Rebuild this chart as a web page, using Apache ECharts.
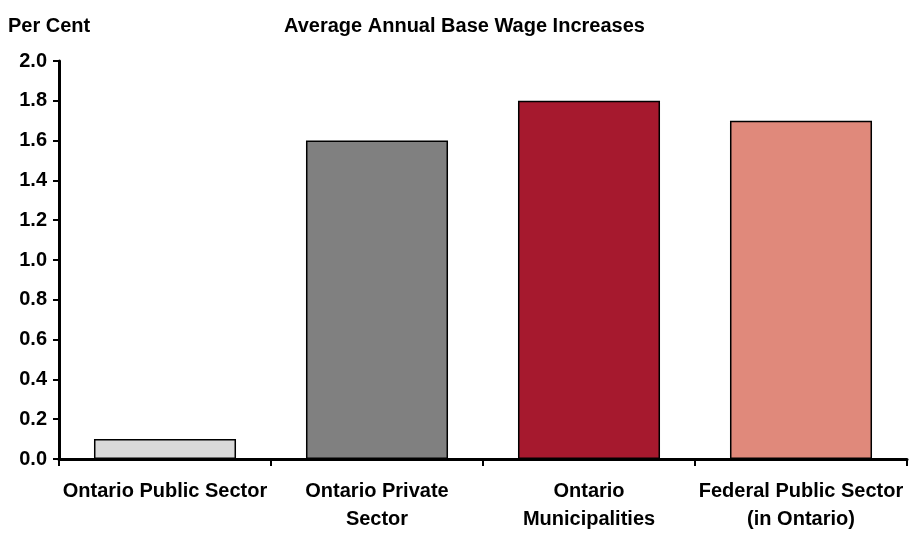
<!DOCTYPE html>
<html><head><meta charset="utf-8">
<script src="https://cdn.jsdelivr.net/npm/echarts@6/dist/echarts.min.js"></script>
<style>html,body{margin:0;padding:0;background:#fff}#c{width:911px;height:533px}</style>
</head><body><div id="c"></div>
<script>
const categories = ['Ontario Public Sector', 'Ontario Private\nSector', 'Ontario\nMunicipalities', 'Federal Public Sector\n(in Ontario)'];
const values = [0.1, 1.6, 1.8, 1.7];
const colors = ['#d9d9d9', '#808080', '#a6192e', '#e0897b'];
const FONT = '"Liberation Sans Narrow", "Arial Narrow", "Liberation Sans", sans-serif';
const chart = echarts.init(document.getElementById('c'));
chart.setOption({
  animation: false,
  textStyle: { fontFamily: FONT },
  title: [
    { text: 'Per Cent', left: 3, top: 11, textStyle: { fontFamily: FONT, fontSize: 20, fontWeight: 'bold', color: '#000' } },
    { text: 'Average Annual Base Wage Increases', left: 279, top: 11, textStyle: { fontFamily: FONT, fontSize: 20, fontWeight: 'bold', color: '#000' } }
  ],
  grid: { left: 59, right: 4, top: 61, bottom: 73, containLabel: false },
  xAxis: {
    type: 'category',
    data: categories,
    axisLine: { lineStyle: { color: '#000', width: 3 } },
    axisTick: { show: true, length: 7, lineStyle: { color: '#000', width: 2 } },
    axisLabel: { color: '#000', fontFamily: FONT, fontSize: 20, fontWeight: 'bold', lineHeight: 28, margin: 18, interval: 0 }
  },
  yAxis: {
    type: 'value', min: 0, max: 2.0, interval: 0.2,
    axisLine: { show: true, lineStyle: { color: '#000', width: 3 } },
    axisTick: { show: true, length: 6, lineStyle: { color: '#000', width: 2 } },
    splitLine: { show: false },
    axisLabel: { color: '#000', fontFamily: FONT, fontSize: 20, fontWeight: 'bold', margin: 12, formatter: v => v.toFixed(1) }
  },
  series: [{
    type: 'bar',
    barCategoryGap: '33%',
    data: values.map((v, i) => ({ value: v, itemStyle: { color: colors[i] } })),
    itemStyle: { borderColor: '#000', borderWidth: 1.5 }
  }]
});
</script></body></html>
